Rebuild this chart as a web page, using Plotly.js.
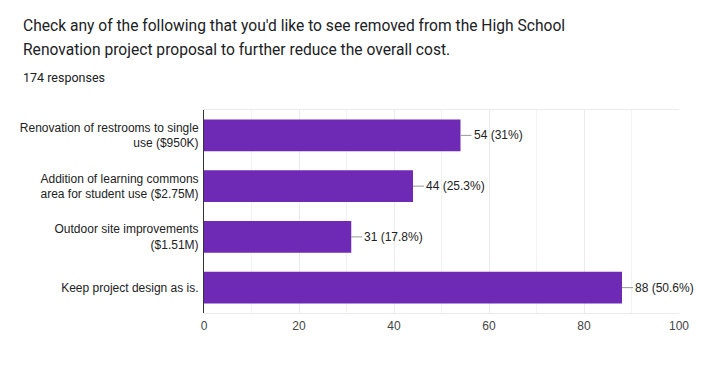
<!DOCTYPE html>
<html>
<head>
<meta charset="utf-8">
<script src="https://cdn.plot.ly/plotly-3.0.1.min.js"></script>
<style>html,body{margin:0;padding:0;background:#fff;}#chart{width:710px;height:387px;}</style>
</head>
<body>
<div id="chart"></div>
<script>
const categories = [
  "Renovation of restrooms to single<br>use ($950K)",
  "Addition of learning commons<br>area for student use ($2.75M)",
  "Outdoor site improvements<br>($1.51M)",
  "Keep project design as is."
];
const counts = [54, 44, 31, 88];
const percents = ["31%", "25.3%", "17.8%", "50.6%"];
const titleLines = [
  "Check any of the following that you'd like to see removed from the High School",
  "Renovation project proposal to further reduce the overall cost."
];
const subtitle = "174 responses";
const xTicks = [0, 20, 40, 60, 80, 100];

const plotL = 204, plotR = 679.5, plotT = 110, plotB = 313;
const pw = plotR - plotL, ph = plotB - plotT;
const px = x => (x - plotL) / pw;
const py = y => (plotB - y) / ph;

const annotations = [];
annotations.push({xref:'paper', yref:'paper', x:px(21), y:py(25.5), xanchor:'left', yanchor:'middle',
  text:titleLines[0], showarrow:false, font:{family:'Roboto', size:15.6, color:'#202124'}});
annotations.push({xref:'paper', yref:'paper', x:px(21), y:py(49.5), xanchor:'left', yanchor:'middle',
  text:titleLines[1], showarrow:false, font:{family:'Roboto', size:15.6, color:'#202124'}});
annotations.push({xref:'paper', yref:'paper', x:px(21), y:py(77.5), xanchor:'left', yanchor:'middle',
  text:subtitle, showarrow:false, font:{family:'Roboto', size:12.5, color:'#202124'}});
for (let i = 0; i < categories.length; i++) {
  annotations.push({x:counts[i], y:categories[i], xref:'x', yref:'y',
    text: counts[i] + " (" + percents[i] + ")",
    showarrow:true, arrowhead:0, arrowwidth:1, arrowcolor:'#999999',
    ax:11, ay:0, xanchor:'left', yanchor:'middle', standoff:0, startstandoff:0,
    font:{family:'Arial', size:12, color:'#222222'}});
}

const data = [{
  type:'bar', orientation:'h',
  x: counts, y: categories,
  marker:{color:'#6f2ab5'},
  hoverinfo:'none'
}];

const layout = {
  width:710, height:387,
  margin:{l:plotL, r:710-plotR, t:plotT, b:387-plotB, pad:0},
  paper_bgcolor:'#ffffff', plot_bgcolor:'#ffffff',
  showlegend:false,
  bargap:0.37,
  font:{family:'Arial', size:12, color:'#222222'},
  xaxis:{range:[0,100], tickvals:xTicks, ticktext:xTicks.map(String),
    showgrid:true, gridcolor:'#ebebeb', gridwidth:1,
    minor:{dtick:10, tick0:0, showgrid:true, gridcolor:'#f2f2f2', gridwidth:1},
    zeroline:false, showline:true, linecolor:'#ebebeb', linewidth:1, mirror:true,
    ticks:'', ticklabelstandoff:2, tickfont:{family:'Arial', size:12, color:'#444444'}, fixedrange:true},
  yaxis:{autorange:'reversed', showgrid:false, zeroline:false,
    showline:true, linecolor:'#333333', linewidth:1,
    ticks:'', ticklabelstandoff:2, tickfont:{family:'Arial', size:12, color:'#222222'}, fixedrange:true},
  annotations: annotations
};

Plotly.newPlot('chart', data, layout, {displayModeBar:false, staticPlot:true});
</script>
</body>
</html>
